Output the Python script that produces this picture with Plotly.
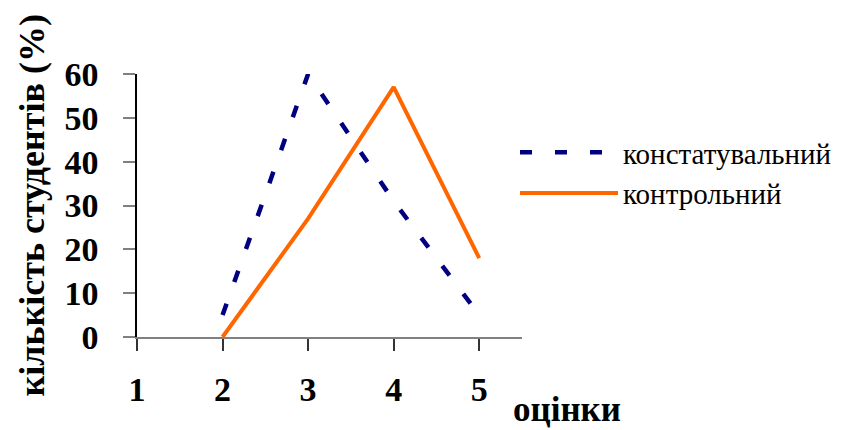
import plotly.graph_objects as go

# Grades (x categories) and share of students per grade, %
grades = [1, 2, 3, 4, 5]
grade_labels = ["1", "2", "3", "4", "5"]
ascertaining = [None, 5, 60, 31, 5]     # констатувальний
control = [None, 0, 27, 57, 18]         # контрольний
y_ticks = [0, 10, 20, 30, 40, 50, 60]

SERIF = "Liberation Serif"
PLOT_L, PLOT_R, PLOT_T, PLOT_B = 137, 522, 74, 337
PW, PH = PLOT_R - PLOT_L, PLOT_B - PLOT_T

fig = go.Figure()
fig.add_trace(go.Scatter(
    x=grades, y=ascertaining, mode="lines", name="констатувальний",
    line=dict(color="#000080", width=4.5, dash="12px,23px"),
))
fig.add_trace(go.Scatter(
    x=grades, y=control, mode="lines", name="контрольний",
    line=dict(color="#FF6600", width=4),
))

fig.update_layout(
    width=859, height=430,
    margin=dict(l=PLOT_L, r=859 - PLOT_R, t=PLOT_T, b=430 - PLOT_B,
                autoexpand=False),
    paper_bgcolor="white", plot_bgcolor="white",
    font=dict(family=SERIF, color="black"),
    showlegend=True,
    legend=dict(
        xref="paper", yref="paper",
        x=(515 - PLOT_L) / PW, y=(PLOT_B - 127) / PH,
        xanchor="left", yanchor="top",
        font=dict(family=SERIF, size=29, color="black"),
        itemwidth=98, tracegroupgap=0,
        bgcolor="rgba(0,0,0,0)",
    ),
    xaxis=dict(
        range=[1, 5.5], tickvals=grades, ticktext=grade_labels,
        showgrid=False, zeroline=False,
        showline=True, linecolor="#808080", linewidth=2,
        ticks="outside", ticklen=12, tickcolor="#333", tickwidth=1.5,
        tickfont=dict(family=SERIF, size=34, weight="bold", color="black"),
        ticklabelstandoff=9,
    ),
    yaxis=dict(
        range=[0, 60], tickvals=y_ticks,
        showgrid=False, zeroline=False,
        showline=True, linecolor="black", linewidth=1.5,
        ticks="outside", ticklen=12, tickcolor="#808080", tickwidth=1.5,
        tickfont=dict(family=SERIF, size=34, weight="bold", color="black"),
        ticklabelstandoff=18,
    ),
    annotations=[
        dict(text="кількість студентів (%)", textangle=-90,
             xref="paper", yref="paper",
             x=(31 - PLOT_L) / PW, y=0.5, xanchor="center", yanchor="middle",
             showarrow=False,
             font=dict(family=SERIF, size=36, weight="bold", color="black")),
        dict(text="оцінки", xref="paper", yref="paper",
             x=(567 - PLOT_L) / PW, y=-(409 - PLOT_B) / PH,
             xanchor="center", yanchor="middle", showarrow=False,
             font=dict(family=SERIF, size=35, weight="bold", color="black")),
    ],
)

fig.write_html("out.html")
